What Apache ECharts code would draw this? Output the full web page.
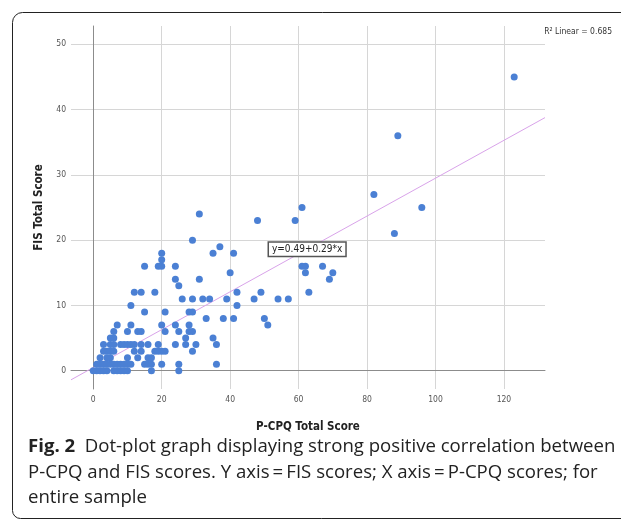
<!DOCTYPE html>
<html>
<head>
<meta charset="utf-8">
<script src="https://cdn.jsdelivr.net/npm/echarts@6/dist/echarts.min.js"></script>
<style>
  html, body { margin: 0; padding: 0; background: #fff; }
  #chart { width: 621px; height: 520px; }
</style>
</head>
<body>
<div id="chart"></div>
<script>
// P-CPQ total score (x) vs FIS total score (y)
const pcpqScores = [
  0, 1, 2, 3, 4, 6, 7, 8, 9, 10, 17, 25,
  1, 2, 3, 4, 5, 6, 7, 8, 9, 10, 11, 15, 16, 17, 20, 25, 36,
  2, 4, 5, 10, 13, 16, 17,
  3, 4, 5, 6, 12, 14, 18, 19, 20, 21, 29,
  3, 5, 6, 8, 9, 10, 11, 12, 14, 16, 19, 24, 27, 30, 36,
  5, 6, 27, 35,
  6, 10, 13, 14, 21, 25, 28, 29,
  7, 11, 20, 24, 28, 51,
  33, 38, 41, 50,
  15, 21, 28, 29,
  11, 42,
  26, 29, 32, 34, 39, 47, 54, 57,
  12, 14, 18, 42, 49, 63,
  25,
  24, 31, 69,
  40, 62, 70,
  15, 19, 20, 24, 61, 62, 67,
  20,
  20, 35, 41,
  37,
  29,
  88,
  48, 59,
  31,
  61, 96,
  82,
  89,
  123
];
const fisScores = [
  0, 0, 0, 0, 0, 0, 0, 0, 0, 0, 0, 0,
  1, 1, 1, 1, 1, 1, 1, 1, 1, 1, 1, 1, 1, 1, 1, 1, 1,
  2, 2, 2, 2, 2, 2, 2,
  3, 3, 3, 3, 3, 3, 3, 3, 3, 3, 3,
  4, 4, 4, 4, 4, 4, 4, 4, 4, 4, 4, 4, 4, 4, 4,
  5, 5, 5, 5,
  6, 6, 6, 6, 6, 6, 6, 6,
  7, 7, 7, 7, 7, 7,
  8, 8, 8, 8,
  9, 9, 9, 9,
  10, 10,
  11, 11, 11, 11, 11, 11, 11, 11,
  12, 12, 12, 12, 12, 12,
  13,
  14, 14, 14,
  15, 15, 15,
  16, 16, 16, 16, 16, 16, 16,
  17,
  18, 18, 18,
  19,
  20,
  21,
  23, 23,
  24,
  25, 25,
  27,
  36,
  45
];

// fit line y = 0.49 + 0.29*x, R^2 = 0.685
const fitIntercept = 0.49;
const fitSlope = 0.29;
const rSquared = 0.685;

const xMin = -6.5;
const xMax = 132;
const yMin = -2.8;
const yMax = 52.8;

const chart = echarts.init(document.getElementById("chart"), null, { renderer: "canvas" });

const tickFont = '"DejaVu Sans Condensed", "Liberation Sans Narrow", "Liberation Sans", sans-serif';
const captionFont = '"Open Sans", "Noto Sans", sans-serif';

const points = pcpqScores.map((x, i) => [x, fisScores[i]]);
const fitLine = [xMin, xMax].map((x) => [x, fitIntercept + fitSlope * x]);

chart.setOption({
  animation: false,
  backgroundColor: "#fff",
  grid: { left: 71, right: 76, top: 26, bottom: 131 },
  xAxis: {
    type: "value",
    min: xMin,
    max: xMax,
    splitNumber: 7,
    name: "P-CPQ Total Score",
    nameLocation: "middle",
    nameGap: 32,
    nameTextStyle: { fontFamily: tickFont, fontWeight: "bold", fontSize: 11.5, color: "#222" },
    axisLine: { show: true, lineStyle: { color: "#8c8c8c", width: 1 } },
    axisTick: { show: false },
    axisLabel: {
      fontFamily: tickFont, fontSize: 8.5, color: "#555", margin: 6,
      showMinLabel: false, showMaxLabel: false
    },
    splitLine: { show: true, showMinLine: false, showMaxLine: false, lineStyle: { color: "#d6d6d6", width: 1 } }
  },
  yAxis: {
    type: "value",
    min: yMin,
    max: yMax,
    splitNumber: 5,
    name: "FIS Total Score",
    nameLocation: "middle",
    nameGap: 25,
    nameTextStyle: { fontFamily: tickFont, fontWeight: "bold", fontSize: 11.5, color: "#222" },
    axisLine: { show: true, lineStyle: { color: "#8c8c8c", width: 1 } },
    axisTick: { show: false },
    axisLabel: {
      fontFamily: tickFont, fontSize: 8.5, color: "#555", margin: 5,
      showMinLabel: false, showMaxLabel: false
    },
    splitLine: { show: true, showMinLine: false, showMaxLine: false, lineStyle: { color: "#d6d6d6", width: 1 } }
  },
  series: [
    {
      type: "scatter",
      data: points,
      symbolSize: 7,
      itemStyle: { color: "#4b80d4", opacity: 1 },
      z: 3
    },
    {
      type: "line",
      data: fitLine,
      symbol: "none",
      lineStyle: { color: "#d9a3ea", width: 1 },
      z: 2,
      markPoint: {
        symbol: "rect",
        symbolSize: 1,
        itemStyle: { color: "rgba(0,0,0,0)" },
        label: {
          show: true,
          position: "inside",
          formatter: "y=0.49+0.29*x",
          fontFamily: tickFont,
          fontSize: 10,
          color: "#222",
          backgroundColor: "#fff",
          borderColor: "#555",
          borderWidth: 1.5,
          padding: [2, 3, 1, 3]
        },
        data: [{ coord: [62.5, 18.6] }],
        z: 10
      }
    }
  ],
  graphic: [
    {
      type: "rect",
      shape: { x: 12.5, y: 12.5, width: 700, height: 506, r: [10, 0, 0, 8] },
      style: { fill: null, stroke: "#222", lineWidth: 1 },
      silent: true
    },
    {
      type: "text",
      right: 9,
      top: 27,
      style: {
        text: "R\u00b2 Linear = " + rSquared,
        font: '8.5px ' + tickFont,
        fill: "#333"
      }
    },
    {
      type: "text",
      left: 28,
      top: 434,
      style: {
        text: "{b|Fig. 2}  Dot-plot graph displaying strong positive correlation between\nP-CPQ and FIS scores. Y axis\u2009=\u2009FIS scores; X axis\u2009=\u2009P-CPQ scores; for\nentire sample",
        font: '18.6px ' + captionFont,
        fill: "#222",
        lineHeight: 25.5,
        rich: {
          b: { font: 'bold 18.6px ' + captionFont, fill: "#222", lineHeight: 25.5 }
        }
      }
    }
  ]
});
</script>
</body>
</html>
